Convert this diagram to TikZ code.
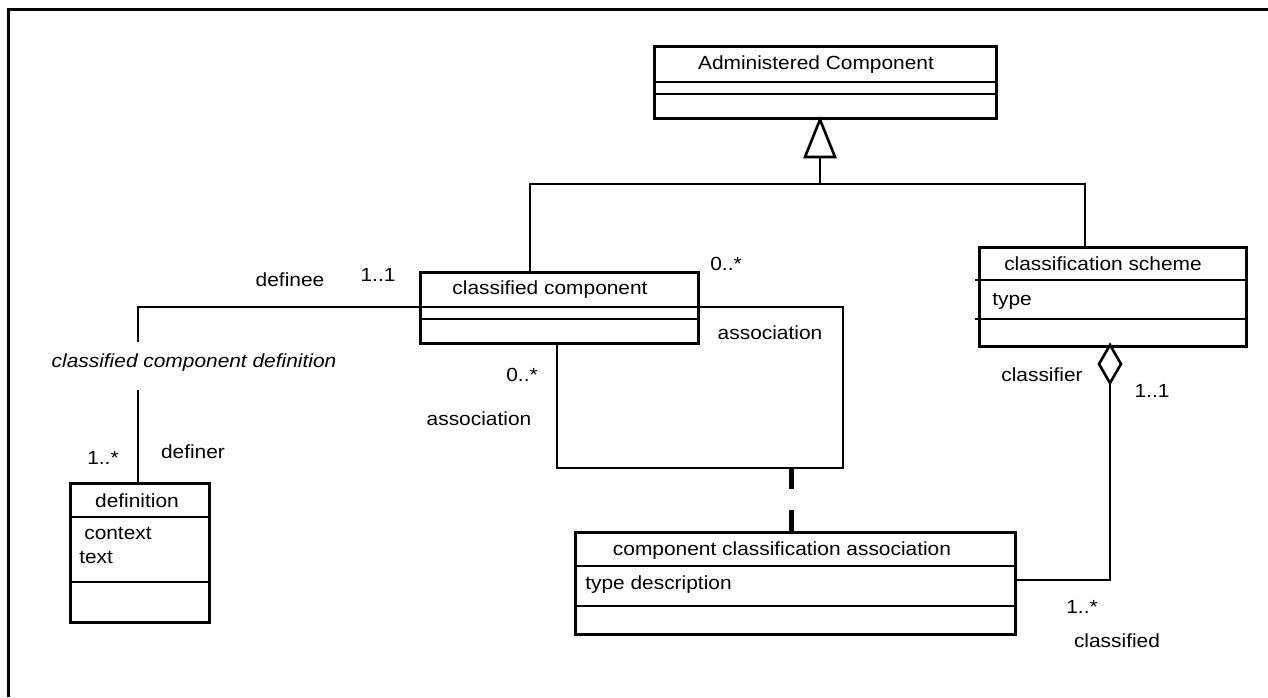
\documentclass[tikz,border=0pt]{standalone}
\usepackage{fontspec}
\setmainfont{Liberation Sans}[FakeStretch=1.1]
\begin{document}
\begin{tikzpicture}[x=1pt,y=-1pt,line width=2.6pt,
  every node/.style={inner sep=0pt,font=\fontsize{19}{22}\selectfont},
  umlbox/.style={draw,rectangle,anchor=north west},
  lbl/.style={},
  dashlink/.style={line width=5pt,dash pattern=on 21pt off 21pt}]
\useasboundingbox (0,0) rectangle (1268,697);
% frame
\draw[line width=3pt] (8,697) -- (8,9) -- (1268,9);
% boxes
\node[umlbox,minimum width=342pt,minimum height=72pt] (ac) at (653,45) {};
\node[umlbox,minimum width=278pt,minimum height=71pt] (cc) at (419,271) {};
\node[umlbox,minimum width=267pt,minimum height=99pt] (cs) at (978,246) {};
\node[umlbox,minimum width=139pt,minimum height=139pt] (def) at (69,482) {};
\node[umlbox,minimum width=440pt,minimum height=102pt] (cca) at (574,531) {};
% compartment lines
\draw (ac.west |- 0,82) -- (998,82);
\draw (ac.west |- 0,94) -- (998,94);
\draw (cc.west |- 0,307) -- (700,307);
\draw (cc.west |- 0,319) -- (700,319);
\draw (975,280) -- (cs.east |- 0,280);
\draw (975,319) -- (cs.east |- 0,319);
\draw (def.west |- 0,517) -- (210,517);
\draw (def.west |- 0,582) -- (210,582);
\draw (cca.west |- 0,566) -- (1016,566);
\draw (cca.west |- 0,606) -- (1016,606);
% texts in boxes
\node (tac) at (816,65) {Administered Component};
\node (tcc) at (550,290) {classified component};
\node (tcs) at (1103,264) {classification scheme};
\node[anchor=west] (tcst) at (991,301) {type};
\node (tdef) at (137,501) {definition};
\node[anchor=west] (tctx) at (83,533) {context};
\node[anchor=west] (ttxt) at (78,557) {text};
\node (tcca) at (782,551) {component classification association};
\node[anchor=west] (tccat) at (584,585) {type description};
% generalization
\coordinate (g1) at (530,184);
\coordinate (g2) at (1085,184);
\coordinate (gm) at (820,184);
\coordinate (gb) at (820,157);
\draw (cc.north -| g1) -- (g1) -- (g2) -- (cs.north -| g2);
\draw (gm) -- (gb);
\draw[line join=miter] (ac.south -| gm) -- (805,157) -- (835,157) -- cycle;
% definee / definer association
\coordinate (d1) at (138,307);
\coordinate (d2) at (138,342);
\coordinate (d3) at (138,390);
\draw (cc.west |- d1) -- (d1) -- (d2);
\draw (d3) -- (def.north -| d3);
\node[font=\fontsize{19}{22}\selectfont\itshape] (tccd) at (194,363) {classified component definition};
\node (tdfe) at (290,280) {definee};
\node (tm11) at (378,275) {1..1};
\node (tdfr) at (193,452) {definer};
\node (tm1s) at (103,458) {1..*};
% self association
\coordinate (a1) at (843,307);
\coordinate (a2) at (843,468);
\coordinate (a3) at (557,468);
\draw (cc.east |- a1) -- (a1) -- (a2) -- (a3) -- (cc.south -| a3);
\node (tm0a) at (726,264) {0..*};
\node (tasa) at (770,333) {association};
\node (tm0b) at (522,375) {0..*};
\node (tasb) at (479,419) {association};
% association class link
\coordinate (dl) at (791,468);
\draw[dashlink] (dl) -- (cca.north -| dl);
% aggregation
\coordinate (k1) at (1110,580);
\coordinate (kt) at (1110,345);
\coordinate (kb) at (1110,383);
\draw (cca.east |- k1) -- (k1) -- (kb);
\draw[line join=miter] (kt) -- (1121,364) -- (kb) -- (1099,364) -- cycle;
\node (tclr) at (1042,375) {classifier};
\node (tm11b) at (1152,391) {1..1};
\node (tm1sb) at (1082,607) {1..*};
\node (tcld) at (1117,641) {classified};
\end{tikzpicture}
\end{document}
